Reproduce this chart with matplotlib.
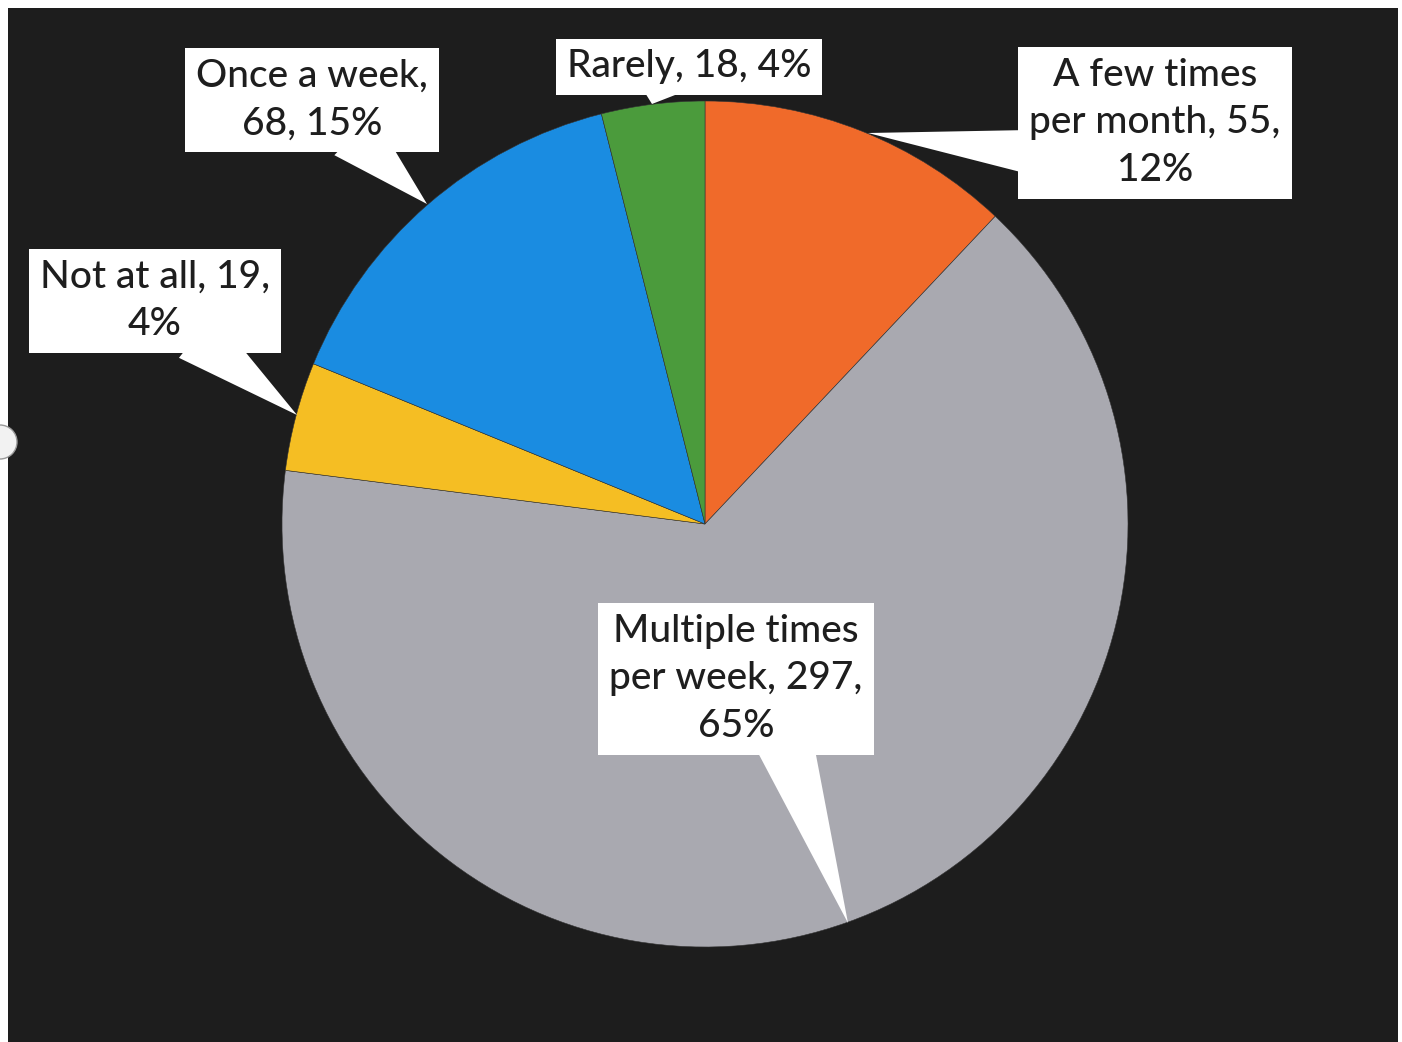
import matplotlib.pyplot as plt
from matplotlib.patches import Rectangle, Circle

# survey answers, clockwise from 12 o'clock
labels = ["A few times\nper month, 55,\n12%",
          "Multiple times\nper week, 297,\n65%",
          "Not at all, 19,\n4%",
          "Once a week,\n68, 15%",
          "Rarely, 18, 4%"]
counts = [55, 297, 19, 68, 18]
colors = ["#F06A2A", "#A9A9B0", "#F5BE23", "#1A8CE1", "#4B9B3C"]

W, H = 1402, 1042
fig = plt.figure(figsize=(W / 100, H / 100), dpi=100)
ax = fig.add_axes([0, 0, 1, 1])

# black chart area of the scanned page
ax.add_patch(Rectangle((8, 0), W - 12, H - 8, facecolor="#1d1d1d", edgecolor="none", zorder=0))
ax.add_patch(Circle((0, H - 442), 17, facecolor="#f2f2f2", edgecolor="#9a9a9a", lw=1, zorder=1))

cx, cy, r = 705, H - 524, 423
wedges, _ = ax.pie(counts, colors=colors, startangle=90, counterclock=False,
                   center=(cx, cy), radius=r, frame=True,
                   wedgeprops=dict(edgecolor="#333333", linewidth=0.4))
ax.set_xlim(0, W)
ax.set_ylim(0, H)
ax.set_aspect("equal")
ax.axis("off")

# callouts: (text centre, pointer tip, relpos of pointer base, tail width)
callouts = [
    ((1155, H - 123), (868, H - 133), (0.04, 0.27), 1.2),
    ((736, H - 679), (848, H - 923), (0.68, 0.08), 1.55),
    ((155, H - 301), (297, H - 415), (0.68, 0.08), 1.45),
    ((312, H - 100), (427, H - 204), (0.68, 0.08), 1.45),
    ((689, H - 67), (652, H - 104), (0.38, 0.10), 1.5),
]
for lab, (xt, tip, rel, tw) in zip(labels, callouts):
    ax.annotate(lab, xy=tip, xytext=xt, ha="center", va="center",
                fontsize=28, family="Lato", weight="medium", color="#1e1e1e",
                linespacing=1.45,
                bbox=dict(boxstyle="square,pad=0.28", fc="white", ec="none"),
                arrowprops=dict(arrowstyle="wedge,tail_width=%s,shrink_factor=0.5" % tw,
                                fc="white", ec="none", relpos=rel, patchA=None,
                                shrinkA=0, shrinkB=0),
                zorder=5)

fig.savefig("out.png", dpi=100, facecolor="white")
